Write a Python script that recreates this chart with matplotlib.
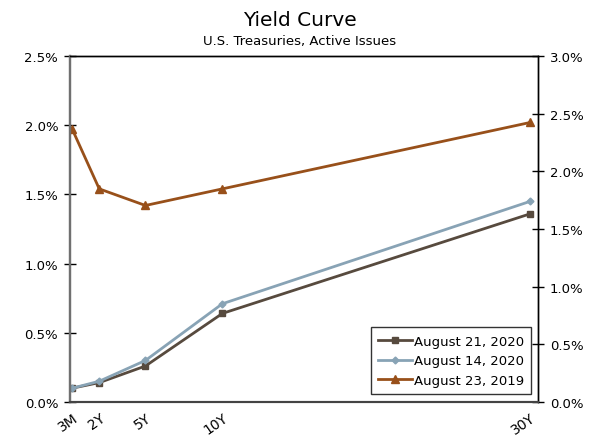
import matplotlib.pyplot as plt
from matplotlib.ticker import FuncFormatter, MultipleLocator

# maturities in years and their labels
maturities = [0.25, 2, 5, 10, 30]
maturity_labels = ["3M", "2Y", "5Y", "10Y", "30Y"]

# yields in percent
aug21_2020 = [0.10, 0.14, 0.26, 0.64, 1.36]
aug14_2020 = [0.10, 0.15, 0.30, 0.71, 1.45]
aug23_2019 = [1.97, 1.54, 1.42, 1.54, 2.02]

plt.rcParams["font.family"] = ["Verdana", "DejaVu Sans"]

fig = plt.figure(figsize=(6, 4.39), dpi=100)
ax = fig.add_axes([70 / 600, 36 / 439, 468 / 600, 346 / 439])

ax.plot(maturities, aug21_2020, color="#574a3e", lw=2, marker="s", ms=5, label="August 21, 2020")
ax.plot(maturities, aug14_2020, color="#88a3b5", lw=2, marker="D", ms=3.5, label="August 14, 2020")
ax.plot(maturities, aug23_2019, color="#98501a", lw=2, marker="^", ms=5.5, label="August 23, 2019")

pct = FuncFormatter(lambda v, p: f"{v:.1f}%")

ax.set_xlim(0.1, 30.5)
ax.set_ylim(0, 2.5)
ax.yaxis.set_major_locator(MultipleLocator(0.5))
ax.yaxis.set_major_formatter(pct)
ax.set_xticks(maturities)
ax.set_xticklabels(maturity_labels, rotation=35, ha="right", rotation_mode="anchor")
ax.tick_params(axis="x", length=0, labelsize=10, pad=6)
ax.tick_params(axis="y", direction="inout", length=9, width=1, labelsize=9.5, pad=4)

ax2 = ax.twinx()
ax2.set_ylim(0, 3.0)
ax2.yaxis.set_major_locator(MultipleLocator(0.5))
ax2.yaxis.set_major_formatter(pct)
ax2.tick_params(axis="y", direction="inout", length=9, width=1, labelsize=9.5, pad=4)

for a in (ax, ax2):
    a.spines["left"].set_color("#707070")
    a.spines["left"].set_linewidth(1.6)
    a.spines["bottom"].set_color("#444444")
    a.spines["bottom"].set_linewidth(1.5)
    a.spines["top"].set_color("black")
    a.spines["top"].set_linewidth(1)
    a.spines["right"].set_color("black")
    a.spines["right"].set_linewidth(1)

leg = ax.legend(loc="lower right", bbox_to_anchor=(0.985, 0.023), borderaxespad=0,
                fontsize=9.5, frameon=True, fancybox=False, handlelength=2.6,
                handletextpad=0.1, borderpad=0.55, labelspacing=0.5)
leg.get_frame().set_edgecolor("black")
leg.get_frame().set_linewidth(1)

fig.text(0.5, 1 - 20 / 439, "Yield Curve", ha="center", va="center", fontsize=14.5)
fig.text(0.5, 1 - 42 / 439, "U.S. Treasuries, Active Issues", ha="center", va="center", fontsize=9.5)

fig.savefig("out.png", dpi=100)
